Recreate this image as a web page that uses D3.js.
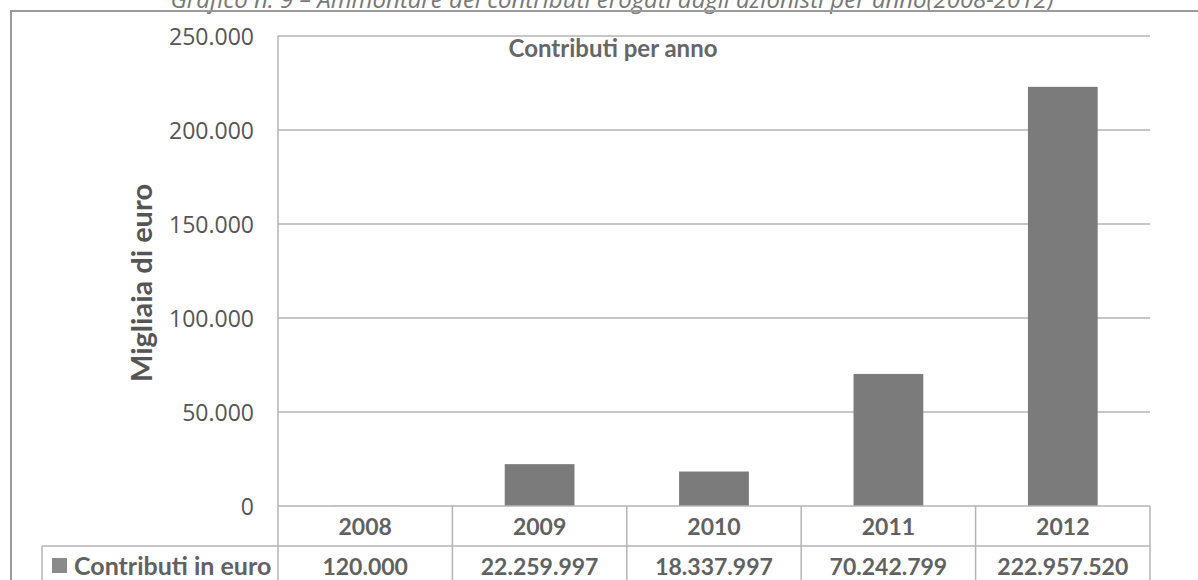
<!doctype html>
<html>
<head>
<meta charset="utf-8">
<style>
    body { margin: 0; background: #fff; }
    svg { display: block; }
    .tick text { font-family: "Open Sans", sans-serif; fill: #555; }
</style>
<script src="https://d3js.org/d3.v7.min.js"></script>
</head>
<body>
<svg width="1198" height="580"></svg>
<script>
    // data
    var years = ["2008", "2009", "2010", "2011", "2012"];
    var contributi = [120000, 22259997, 18337997, 70242799, 222957520];   // euro
    var yTicks = [0, 50000, 100000, 150000, 200000, 250000];              // migliaia di euro
    var seriesName = "Contributi in euro";
    var chartTitle = "Contributi per anno";
    var yLabel = "Migliaia di euro";
    var caption = "Grafico n. 9 \u2013 Ammontare dei contributi erogati dagli azionisti per anno(2008-2012)";

    var it = d3.formatLocale({ decimal: ",", thousands: ".", grouping: [3], currency: ["\u20ac", ""] });
    var fmt = it.format(",d");

    var svg = d3.select("svg");
    var plotLeft = 278, plotRight = 1150, plotTop = 36, zeroY = 506;
    var rowH = 40;

    var x = d3.scaleBand().domain(years).range([plotLeft, plotRight]).paddingInner(0).paddingOuter(0);
    var y = d3.scaleLinear().domain([0, 250000]).range([zeroY, plotTop]);

    // caption cut at the top
    svg.append("text")
       .attr("x", 612).attr("y", 8)
       .attr("text-anchor", "middle")
       .style("font-family", "Open Sans, sans-serif")
       .style("font-style", "italic")
       .style("font-size", "24px")
       .style("fill", "#777")
       .text(caption);

    // outer frame
    svg.append("path")
       .attr("d", "M11,600 L11,11 L1210,11")
       .attr("fill", "none").attr("stroke", "#9a9a9a").attr("stroke-width", 2);

    // gridlines
    svg.append("g").selectAll("line")
       .data(yTicks.slice(1))
       .enter().append("line")
       .attr("x1", plotLeft).attr("x2", plotRight)
       .attr("y1", function(d) { return y(d); })
       .attr("y2", function(d) { return y(d); })
       .attr("stroke", "#b4b4b4").attr("stroke-width", 1.5);

    // y axis labels
    var yAxis = svg.append("g")
       .attr("transform", "translate(" + (plotLeft - 24) + ",0)")
       .call(d3.axisLeft(y).tickValues(yTicks).tickFormat(fmt).tickSize(0).tickPadding(0));
    yAxis.select(".domain").remove();
    yAxis.selectAll(".tick text").style("font-size", "23px").attr("dy", "0.36em");

    // bars
    svg.append("g").selectAll("rect")
       .data(years)
       .enter().append("rect")
       .attr("x", function(d) { return x(d) + x.bandwidth() * 0.3; })
       .attr("width", x.bandwidth() * 0.4)
       .attr("y", function(d, i) { return y(contributi[i] / 1000); })
       .attr("height", function(d, i) { return zeroY - y(contributi[i] / 1000); })
       .attr("fill", "#7b7b7b");

    // data table
    var tbl = svg.append("g").attr("stroke", "#b4b4b4").attr("stroke-width", 1.5).attr("fill", "none");
    tbl.append("line").attr("x1", plotLeft).attr("x2", plotRight).attr("y1", zeroY).attr("y2", zeroY);
    tbl.append("line").attr("x1", 42).attr("x2", plotRight).attr("y1", zeroY + rowH).attr("y2", zeroY + rowH);
    tbl.append("line").attr("x1", plotLeft).attr("x2", plotLeft).attr("y1", plotTop).attr("y2", 600);
    tbl.append("line").attr("x1", 42).attr("x2", 42).attr("y1", zeroY + rowH).attr("y2", 600);
    tbl.selectAll(".div")
       .data(years)
       .enter().append("line")
       .attr("x1", function(d) { return x(d) + x.bandwidth(); })
       .attr("x2", function(d) { return x(d) + x.bandwidth(); })
       .attr("y1", zeroY).attr("y2", 600);

    var cellFont = function(sel, size) {
        sel.style("font-family", "Lato, sans-serif")
           .style("font-weight", "bold")
           .style("font-size", (size || 23) + "px")
           .style("fill", "#616161");
    };

    svg.append("g").selectAll("text")
       .data(years)
       .enter().append("text")
       .attr("x", function(d) { return x(d) + x.bandwidth() / 2; })
       .attr("y", zeroY + 29)
       .attr("text-anchor", "middle")
       .call(cellFont)
       .text(function(d) { return d; });

    svg.append("g").selectAll("text")
       .data(contributi)
       .enter().append("text")
       .attr("x", function(d, i) { return x(years[i]) + x.bandwidth() / 2; })
       .attr("y", zeroY + rowH + 29)
       .attr("text-anchor", "middle")
       .call(cellFont)
       .text(function(d) { return fmt(d); });

    // legend key in the table
    svg.append("rect")
       .attr("x", 52).attr("y", zeroY + rowH + 12)
       .attr("width", 15).attr("height", 15)
       .attr("fill", "#8a8a8a");
    svg.append("text")
       .attr("x", 74).attr("y", zeroY + rowH + 29)
       .call(cellFont, 25)
       .text(seriesName);

    // chart title
    svg.append("text")
       .attr("x", 613).attr("y", 57)
       .attr("text-anchor", "middle")
       .style("font-family", "Lato, sans-serif")
       .style("font-weight", "bold")
       .style("font-size", "24px")
       .style("fill", "#666")
       .text(chartTitle);

    // y axis title
    svg.append("text")
       .attr("transform", "translate(152,283) rotate(-90)")
       .attr("text-anchor", "middle")
       .style("font-family", "Lato, sans-serif")
       .style("font-weight", "bold")
       .style("font-size", "29px")
       .style("fill", "#555")
       .text(yLabel);
</script>
</body>
</html>
